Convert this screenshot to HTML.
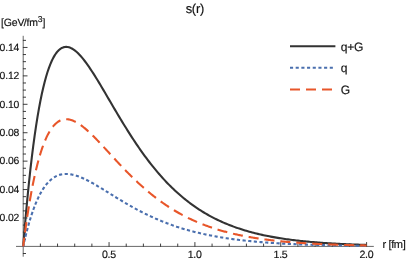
<!DOCTYPE html>
<html><head><meta charset="utf-8"><title>s(r)</title>
<style>html,body{margin:0;padding:0;background:#fff;}svg{display:block;will-change:transform;}text{font-family:"Liberation Sans",sans-serif;text-rendering:geometricPrecision;}</style>
</head><body>
<svg width="407" height="260" viewBox="0 0 407 260">
<rect width="407" height="260" fill="#ffffff"/>
<g stroke="#686868" stroke-width="1" fill="none">
<line x1="16.0" y1="246.4" x2="373.8" y2="246.4"/>
<line x1="23.2" y1="35.8" x2="23.2" y2="256.7"/>
</g>
<g stroke="#2a2a2a" stroke-width="0.9" fill="none">
<line x1="40.37" y1="246.70" x2="40.37" y2="243.60"/>
<line x1="57.54" y1="246.70" x2="57.54" y2="243.60"/>
<line x1="74.71" y1="246.70" x2="74.71" y2="243.60"/>
<line x1="91.88" y1="246.70" x2="91.88" y2="243.60"/>
<line x1="109.05" y1="246.70" x2="109.05" y2="242.10"/>
<line x1="126.22" y1="246.70" x2="126.22" y2="243.60"/>
<line x1="143.39" y1="246.70" x2="143.39" y2="243.60"/>
<line x1="160.56" y1="246.70" x2="160.56" y2="243.60"/>
<line x1="177.73" y1="246.70" x2="177.73" y2="243.60"/>
<line x1="194.90" y1="246.70" x2="194.90" y2="242.10"/>
<line x1="212.07" y1="246.70" x2="212.07" y2="243.60"/>
<line x1="229.24" y1="246.70" x2="229.24" y2="243.60"/>
<line x1="246.41" y1="246.70" x2="246.41" y2="243.60"/>
<line x1="263.58" y1="246.70" x2="263.58" y2="243.60"/>
<line x1="280.75" y1="246.70" x2="280.75" y2="242.10"/>
<line x1="297.92" y1="246.70" x2="297.92" y2="243.60"/>
<line x1="315.09" y1="246.70" x2="315.09" y2="243.60"/>
<line x1="332.26" y1="246.70" x2="332.26" y2="243.60"/>
<line x1="349.43" y1="246.70" x2="349.43" y2="243.60"/>
<line x1="366.60" y1="246.70" x2="366.60" y2="242.10"/>
<line x1="22.90" y1="253.50" x2="26.00" y2="253.50"/>
<line x1="22.90" y1="239.30" x2="26.00" y2="239.30"/>
<line x1="22.90" y1="232.19" x2="26.00" y2="232.19"/>
<line x1="22.90" y1="225.09" x2="26.00" y2="225.09"/>
<line x1="22.90" y1="217.98" x2="27.50" y2="217.98"/>
<line x1="22.90" y1="210.88" x2="26.00" y2="210.88"/>
<line x1="22.90" y1="203.77" x2="26.00" y2="203.77"/>
<line x1="22.90" y1="196.66" x2="26.00" y2="196.66"/>
<line x1="22.90" y1="189.56" x2="27.50" y2="189.56"/>
<line x1="22.90" y1="182.46" x2="26.00" y2="182.46"/>
<line x1="22.90" y1="175.35" x2="26.00" y2="175.35"/>
<line x1="22.90" y1="168.25" x2="26.00" y2="168.25"/>
<line x1="22.90" y1="161.14" x2="27.50" y2="161.14"/>
<line x1="22.90" y1="154.03" x2="26.00" y2="154.03"/>
<line x1="22.90" y1="146.93" x2="26.00" y2="146.93"/>
<line x1="22.90" y1="139.82" x2="26.00" y2="139.82"/>
<line x1="22.90" y1="132.72" x2="27.50" y2="132.72"/>
<line x1="22.90" y1="125.61" x2="26.00" y2="125.61"/>
<line x1="22.90" y1="118.51" x2="26.00" y2="118.51"/>
<line x1="22.90" y1="111.41" x2="26.00" y2="111.41"/>
<line x1="22.90" y1="104.30" x2="27.50" y2="104.30"/>
<line x1="22.90" y1="97.20" x2="26.00" y2="97.20"/>
<line x1="22.90" y1="90.09" x2="26.00" y2="90.09"/>
<line x1="22.90" y1="82.98" x2="26.00" y2="82.98"/>
<line x1="22.90" y1="75.88" x2="27.50" y2="75.88"/>
<line x1="22.90" y1="68.78" x2="26.00" y2="68.78"/>
<line x1="22.90" y1="61.67" x2="26.00" y2="61.67"/>
<line x1="22.90" y1="54.56" x2="26.00" y2="54.56"/>
<line x1="22.90" y1="47.46" x2="27.50" y2="47.46"/>
<line x1="22.90" y1="40.36" x2="26.00" y2="40.36"/>
</g>
<path d="M23.20,246.40 L24.63,228.92 L26.06,212.58 L27.49,197.33 L28.92,183.12 L30.35,169.89 L31.78,157.60 L33.22,146.19 L34.65,135.63 L36.08,125.87 L37.51,116.87 L38.94,108.59 L40.37,100.99 L41.80,94.04 L43.23,87.69 L44.66,81.93 L46.09,76.72 L47.52,72.03 L48.95,67.82 L50.39,64.08 L51.82,60.78 L53.25,57.88 L54.68,55.38 L56.11,53.25 L57.54,51.46 L58.97,49.99 L60.40,48.83 L61.83,47.96 L63.26,47.36 L64.69,47.00 L66.12,46.89 L67.56,47.00 L68.99,47.32 L70.42,47.83 L71.85,48.51 L73.28,49.37 L74.71,50.39 L76.14,51.55 L77.57,52.84 L79.00,54.26 L80.43,55.79 L81.86,57.43 L83.29,59.17 L84.73,61.00 L86.16,62.91 L87.59,64.89 L89.02,66.94 L90.45,69.05 L91.88,71.21 L93.31,73.43 L94.74,75.68 L96.17,77.98 L97.60,80.30 L99.03,82.66 L100.47,85.04 L101.90,87.44 L103.33,89.85 L104.76,92.28 L106.19,94.72 L107.62,97.16 L109.05,99.61 L110.48,102.06 L111.91,104.50 L113.34,106.94 L114.77,109.37 L116.20,111.79 L117.64,114.20 L119.07,116.60 L120.50,118.98 L121.93,121.34 L123.36,123.69 L124.79,126.02 L126.22,128.32 L127.65,130.61 L129.08,132.87 L130.51,135.11 L131.94,137.32 L133.37,139.51 L134.80,141.67 L136.24,143.81 L137.67,145.91 L139.10,147.99 L140.53,150.04 L141.96,152.07 L143.39,154.06 L144.82,156.02 L146.25,157.96 L147.68,159.86 L149.11,161.74 L150.54,163.58 L151.97,165.40 L153.41,167.18 L154.84,168.94 L156.27,170.66 L157.70,172.36 L159.13,174.02 L160.56,175.66 L161.99,177.27 L163.42,178.84 L164.85,180.39 L166.28,181.91 L167.71,183.40 L169.14,184.86 L170.58,186.30 L172.01,187.70 L173.44,189.08 L174.87,190.43 L176.30,191.76 L177.73,193.05 L179.16,194.33 L180.59,195.57 L182.02,196.79 L183.45,197.98 L184.88,199.15 L186.31,200.30 L187.75,201.42 L189.18,202.51 L190.61,203.59 L192.04,204.64 L193.47,205.66 L194.90,206.67 L196.33,207.65 L197.76,208.61 L199.19,209.55 L200.62,210.47 L202.05,211.37 L203.48,212.24 L204.92,213.10 L206.35,213.94 L207.78,214.76 L209.21,215.56 L210.64,216.34 L212.07,217.10 L213.50,217.85 L214.93,218.58 L216.36,219.29 L217.79,219.98 L219.22,220.66 L220.65,221.32 L222.09,221.97 L223.52,222.60 L224.95,223.22 L226.38,223.82 L227.81,224.40 L229.24,224.98 L230.67,225.54 L232.10,226.08 L233.53,226.61 L234.96,227.13 L236.39,227.64 L237.82,228.13 L239.26,228.61 L240.69,229.08 L242.12,229.54 L243.55,229.98 L244.98,230.42 L246.41,230.84 L247.84,231.26 L249.27,231.66 L250.70,232.05 L252.13,232.44 L253.56,232.81 L254.99,233.17 L256.43,233.53 L257.86,233.87 L259.29,234.21 L260.72,234.54 L262.15,234.86 L263.58,235.17 L265.01,235.47 L266.44,235.77 L267.87,236.06 L269.30,236.34 L270.73,236.61 L272.16,236.88 L273.60,237.14 L275.03,237.39 L276.46,237.63 L277.89,237.87 L279.32,238.11 L280.75,238.33 L282.18,238.56 L283.61,238.77 L285.04,238.98 L286.47,239.18 L287.90,239.38 L289.33,239.58 L290.77,239.76 L292.20,239.95 L293.63,240.13 L295.06,240.30 L296.49,240.47 L297.92,240.63 L299.35,240.79 L300.78,240.95 L302.21,241.10 L303.64,241.25 L305.07,241.39 L306.50,241.53 L307.94,241.67 L309.37,241.80 L310.80,241.93 L312.23,242.05 L313.66,242.17 L315.09,242.29 L316.52,242.41 L317.95,242.52 L319.38,242.63 L320.81,242.73 L322.24,242.84 L323.67,242.94 L325.11,243.04 L326.54,243.13 L327.97,243.22 L329.40,243.31 L330.83,243.40 L332.26,243.48 L333.69,243.57 L335.12,243.65 L336.55,243.73 L337.98,243.80 L339.41,243.88 L340.84,243.95 L342.28,244.02 L343.71,244.08 L345.14,244.15 L346.57,244.21 L348.00,244.28 L349.43,244.34 L350.86,244.40 L352.29,244.45 L353.72,244.51 L355.15,244.56 L356.58,244.62 L358.01,244.67 L359.45,244.72 L360.88,244.76 L362.31,244.81 L363.74,244.86 L365.17,244.90 L366.60,244.94" fill="none" stroke="#333333" stroke-width="2.1" stroke-linejoin="round"/>
<path d="M23.20,246.40 L23.72,244.06 M24.23,241.78 L24.75,239.56 L25.00,238.47 M25.43,236.68 L25.95,234.57 L26.29,233.20 M26.81,231.19 L27.32,229.22 L27.66,227.94 M28.27,225.74 L28.78,223.91 L29.21,222.42 M29.81,220.39 L30.33,218.70 L30.75,217.32 M31.44,215.18 L31.96,213.63 L32.56,211.87 M33.24,209.92 L33.76,208.51 L34.45,206.68 M35.22,204.71 L35.73,203.44 L36.51,201.61 M37.45,199.47 L37.97,198.36 L38.82,196.57 M39.85,194.55 L40.37,193.58 L41.40,191.74 M42.60,189.74 L43.12,188.93 L43.98,187.64 L44.40,187.02 M45.86,185.05 L46.38,184.41 L47.24,183.39 L47.92,182.61 M49.56,180.94 L50.07,180.46 L50.93,179.70 L51.96,178.86 M54.02,177.41 L54.54,177.10 L55.39,176.61 L56.25,176.17 L56.77,175.92 M59.09,175.02 L59.60,174.86 L60.46,174.62 L61.32,174.42 L62.18,174.26 M64.67,173.97 L65.18,173.95 L66.04,173.93 L66.90,173.94 L67.84,173.99 M70.33,174.26 L70.85,174.34 L71.71,174.49 L72.56,174.67 L73.42,174.86 M75.83,175.52 L76.34,175.68 L77.20,175.96 L78.06,176.26 L78.83,176.54 M81.15,177.46 L81.66,177.67 L82.52,178.04 L83.38,178.43 L84.07,178.74 M86.21,179.77 L86.73,180.03 L87.59,180.47 L88.45,180.91 L89.05,181.23 M91.28,182.43 L91.79,182.72 L92.65,183.20 L93.51,183.68 L94.03,183.98 M96.17,185.22 L96.69,185.52 L97.55,186.03 L98.40,186.54 L98.83,186.80 M100.98,188.10 L101.50,188.41 L102.35,188.94 L103.21,189.46 L103.73,189.78 M105.79,191.05 L106.30,191.37 L107.16,191.91 L108.02,192.44 L108.45,192.71 M110.60,194.04 L111.11,194.36 L111.97,194.89 L112.83,195.42 L113.26,195.69 M115.32,196.96 L115.83,197.27 L116.69,197.80 L117.55,198.33 L118.06,198.64 M120.12,199.89 L120.64,200.20 L121.50,200.72 L122.36,201.23 L122.87,201.54 M125.02,202.81 L125.53,203.11 L126.39,203.61 L127.25,204.11 L127.77,204.41 M129.91,205.63 L130.43,205.93 L131.29,206.41 L132.14,206.89 L132.66,207.18 M134.80,208.36 L135.32,208.64 L136.18,209.10 L137.04,209.56 L137.64,209.88 M139.78,211.01 L140.30,211.28 L141.16,211.72 L142.02,212.16 L142.62,212.47 M144.85,213.59 L145.36,213.84 L146.22,214.26 L147.08,214.68 L147.68,214.97 M149.91,216.02 L150.43,216.26 L151.29,216.66 L152.15,217.05 L152.83,217.37 M155.07,218.36 L155.58,218.59 L156.44,218.96 L157.30,219.33 L157.98,219.63 M160.22,220.56 L160.73,220.77 L161.59,221.13 L162.45,221.47 L163.22,221.78 M165.45,222.66 L165.97,222.85 L166.83,223.18 L167.69,223.51 L168.46,223.79 M170.78,224.64 L171.29,224.82 L172.15,225.13 L173.01,225.43 L173.78,225.70 M176.10,226.48 L176.61,226.66 L177.47,226.94 L178.33,227.22 L179.19,227.49 M181.51,228.22 L182.02,228.38 L182.88,228.64 L183.74,228.90 L184.60,229.15 M186.92,229.83 L187.43,229.97 L188.29,230.21 L189.15,230.45 L190.01,230.69 M192.41,231.33 L192.93,231.46 L193.78,231.68 L194.64,231.90 L195.50,232.12 M197.90,232.71 L198.42,232.83 L199.28,233.03 L200.14,233.24 L201.00,233.43 M203.40,233.97 L203.91,234.09 L204.77,234.27 L205.63,234.46 L206.49,234.64 M208.98,235.15 L209.49,235.25 L210.35,235.42 L211.21,235.59 L212.07,235.76 M214.56,236.23 L215.07,236.32 L215.93,236.48 L216.79,236.63 L217.65,236.78 M220.14,237.21 L220.65,237.29 L221.51,237.43 L222.37,237.57 L223.23,237.71 M225.72,238.10 L226.24,238.18 L227.09,238.30 L227.95,238.43 L228.81,238.56 M231.30,238.91 L231.82,238.98 L232.67,239.10 L233.53,239.21 L234.48,239.34 M236.88,239.65 L237.40,239.71 L238.25,239.82 L239.11,239.92 L240.06,240.03 M242.55,240.32 L243.06,240.38 L243.92,240.48 L244.78,240.57 L245.72,240.68 M248.21,240.94 L248.73,240.99 L249.59,241.08 L250.44,241.16 L251.39,241.26 M253.79,241.48 L254.31,241.53 L255.17,241.61 L256.03,241.69 L256.97,241.77 M259.46,241.99 L259.97,242.03 L260.83,242.10 L261.69,242.17 L262.64,242.25 M265.13,242.44 L265.64,242.48 L266.50,242.54 L267.36,242.61 L268.30,242.67 M270.79,242.85 L271.31,242.88 L272.16,242.94 L273.02,243.00 L273.97,243.06 M276.46,243.22 L276.97,243.25 L277.83,243.30 L278.69,243.35 L279.63,243.41 M282.12,243.55 L282.64,243.58 L283.50,243.62 L284.36,243.67 L285.30,243.72 M287.79,243.85 L288.30,243.87 L289.16,243.91 L290.02,243.95 L290.97,244.00 M293.46,244.11 L293.97,244.14 L294.83,244.17 L295.69,244.21 L296.63,244.25 M299.12,244.35 L299.64,244.37 L300.50,244.41 L301.35,244.44 L302.30,244.48 M304.79,244.57 L305.30,244.59 L306.16,244.62 L307.02,244.65 L307.96,244.68 M310.45,244.76 L310.97,244.78 L311.83,244.81 L312.69,244.84 L313.63,244.86 M316.12,244.94 L316.64,244.95 L317.49,244.98 L318.35,245.00 L319.30,245.03 M321.79,245.09 L322.30,245.11 L323.16,245.13 L324.02,245.15 L324.96,245.17 M327.45,245.23 L327.97,245.25 L328.83,245.27 L329.68,245.28 L330.63,245.31 M333.12,245.36 L333.63,245.37 L334.49,245.39 L335.35,245.40 L336.29,245.42 M338.78,245.47 L339.30,245.48 L340.16,245.50 L341.02,245.51 L341.96,245.53 M344.45,245.57 L344.97,245.58 L345.82,245.59 L346.68,245.61 L347.63,245.62 M350.12,245.66 L350.63,245.67 L351.49,245.68 L352.35,245.69 L353.29,245.71 M355.78,245.74 L356.30,245.75 L357.16,245.76 L358.01,245.77 L358.96,245.78 M361.45,245.81 L361.96,245.82 L362.82,245.83 L363.68,245.84 L364.63,245.85" fill="none" stroke="#4a6fae" stroke-width="2.1"/>
<path d="M23.20,246.40 L23.72,242.30 L24.32,237.64 M25.00,232.48 L25.52,228.71 L26.46,222.05 M27.23,216.82 L27.75,213.44 L28.61,208.00 L28.87,206.41 M29.72,201.26 L30.24,198.28 L31.10,193.48 L31.53,191.16 M32.56,185.80 L33.07,183.22 L33.93,179.09 L34.62,175.92 M35.91,170.29 L36.42,168.15 L37.28,164.72 L38.14,161.45 L38.40,160.50 M39.85,155.40 L40.37,153.71 L41.23,151.00 L42.09,148.43 L43.03,145.77 M45.09,140.53 L45.61,139.33 L46.47,137.43 L47.32,135.64 L48.18,133.97 L49.04,132.41 L49.56,131.53 M52.82,126.75 L53.33,126.13 L54.19,125.15 L55.05,124.26 L55.91,123.45 L56.77,122.72 L57.63,122.07 L58.48,121.49 L59.34,120.99 L60.20,120.55 L60.46,120.43 M66.21,119.22 L66.73,119.23 L67.58,119.29 L68.44,119.40 L69.30,119.55 L70.16,119.75 L71.02,119.99 L71.88,120.27 L72.74,120.58 L73.59,120.94 L74.45,121.33 L75.31,121.75 L75.74,121.97 M80.72,125.10 L81.23,125.47 L82.09,126.11 L82.95,126.78 L83.81,127.46 L84.67,128.17 L85.53,128.89 L86.39,129.63 L87.24,130.39 L88.10,131.16 L88.45,131.47 M92.65,135.48 L93.17,135.99 L94.03,136.85 L94.88,137.72 L95.74,138.59 L96.60,139.48 L97.46,140.37 L98.32,141.27 L99.18,142.17 L99.61,142.63 M103.56,146.86 L104.07,147.41 L104.93,148.34 L105.79,149.27 L106.65,150.21 L107.50,151.14 L108.36,152.08 L109.22,153.01 L110.08,153.95 L110.34,154.23 M114.29,158.52 L114.80,159.08 L115.66,160.01 L116.52,160.93 L117.38,161.85 L118.24,162.77 L119.09,163.69 L119.95,164.60 L120.81,165.51 L121.15,165.87 M125.10,169.99 L125.62,170.52 L126.48,171.39 L127.34,172.27 L128.19,173.14 L129.05,174.00 L129.91,174.86 L130.77,175.71 L131.63,176.56 L132.23,177.15 M136.35,181.11 L136.87,181.59 L137.72,182.40 L138.58,183.19 L139.44,183.98 L140.30,184.77 L141.16,185.55 L142.02,186.32 L142.87,187.08 L143.82,187.91 M148.20,191.67 L148.71,192.10 L149.57,192.81 L150.43,193.51 L151.29,194.21 L152.15,194.90 L153.01,195.59 L153.86,196.26 L154.72,196.93 L155.58,197.60 L156.01,197.92 M160.73,201.43 L161.25,201.80 L162.11,202.41 L162.96,203.02 L163.82,203.61 L164.68,204.20 L165.54,204.79 L166.40,205.37 L167.26,205.94 L168.11,206.50 L168.97,207.06 M173.95,210.17 L174.47,210.48 L175.33,210.99 L176.18,211.50 L177.04,212.00 L177.90,212.49 L178.76,212.98 L179.62,213.46 L180.48,213.94 L181.34,214.40 L182.19,214.87 L182.71,215.14 M187.95,217.82 L188.46,218.08 L189.32,218.49 L190.18,218.90 L191.04,219.31 L191.90,219.71 L192.75,220.11 L193.61,220.50 L194.47,220.88 L195.33,221.26 L196.19,221.64 L197.05,222.01 M202.54,224.26 L203.06,224.46 L203.91,224.79 L204.77,225.12 L205.63,225.44 L206.49,225.76 L207.35,226.07 L208.21,226.38 L209.07,226.69 L209.92,226.99 L210.78,227.29 L211.64,227.58 L211.98,227.70 M217.56,229.49 L218.08,229.65 L218.94,229.91 L219.80,230.16 L220.65,230.41 L221.51,230.66 L222.37,230.91 L223.23,231.15 L224.09,231.39 L224.95,231.62 L225.81,231.85 L226.66,232.08 L227.27,232.24 M233.02,233.66 L233.53,233.79 L234.39,233.98 L235.25,234.18 L236.11,234.37 L236.97,234.57 L237.82,234.75 L238.68,234.94 L239.54,235.12 L240.40,235.30 L241.26,235.48 L242.12,235.65 L242.80,235.79 M248.64,236.89 L249.16,236.98 L250.02,237.13 L250.87,237.28 L251.73,237.43 L252.59,237.58 L253.45,237.72 L254.31,237.86 L255.17,238.00 L256.03,238.13 L256.88,238.27 L257.74,238.40 L258.60,238.53 M264.44,239.36 L264.95,239.43 L265.81,239.54 L266.67,239.65 L267.53,239.76 L268.39,239.87 L269.25,239.98 L270.10,240.08 L270.96,240.19 L271.82,240.29 L272.68,240.39 L273.54,240.49 L274.48,240.59 M280.32,241.22 L280.84,241.27 L281.69,241.35 L282.55,241.44 L283.41,241.52 L284.27,241.60 L285.13,241.68 L285.99,241.76 L286.85,241.83 L287.70,241.91 L288.56,241.98 L289.42,242.06 L290.37,242.14 M296.29,242.60 L296.80,242.64 L297.66,242.71 L298.52,242.77 L299.38,242.83 L300.24,242.89 L301.10,242.95 L301.95,243.00 L302.81,243.06 L303.67,243.12 L304.53,243.17 L305.39,243.23 L306.33,243.29 M312.26,243.63 L312.77,243.66 L313.63,243.70 L314.49,243.75 L315.35,243.80 L316.21,243.84 L317.06,243.88 L317.92,243.93 L318.78,243.97 L319.64,244.01 L320.50,244.05 L321.36,244.09 L322.30,244.13 M328.23,244.39 L328.74,244.41 L329.60,244.44 L330.46,244.47 L331.32,244.51 L332.17,244.54 L333.03,244.57 L333.89,244.60 L334.75,244.63 L335.61,244.66 L336.47,244.69 L337.33,244.72 L338.27,244.75 M344.19,244.94 L344.71,244.95 L345.57,244.98 L346.43,245.00 L347.28,245.03 L348.14,245.05 L349.00,245.07 L349.86,245.10 L350.72,245.12 L351.58,245.14 L352.43,245.16 L353.29,245.18 L354.24,245.21 M360.16,245.34 L360.68,245.35 L361.53,245.37 L362.39,245.39 L363.25,245.41 L364.11,245.42 L364.97,245.44 L365.83,245.46 L366.60,245.47" fill="none" stroke="#e8562a" stroke-width="2.1"/>
<g font-family="Liberation Sans, sans-serif" fill="#111111" stroke="#111111" stroke-width="0.15">
<text x="19.2" y="221.33" font-size="10.4" letter-spacing="-0.15" text-anchor="end">0.02</text>
<text x="19.2" y="192.91" font-size="10.4" letter-spacing="-0.15" text-anchor="end">0.04</text>
<text x="19.2" y="164.49" font-size="10.4" letter-spacing="-0.15" text-anchor="end">0.06</text>
<text x="19.2" y="136.07" font-size="10.4" letter-spacing="-0.15" text-anchor="end">0.08</text>
<text x="19.2" y="107.65" font-size="10.4" letter-spacing="-0.15" text-anchor="end">0.10</text>
<text x="19.2" y="79.23" font-size="10.4" letter-spacing="-0.15" text-anchor="end">0.12</text>
<text x="19.2" y="50.81" font-size="10.4" letter-spacing="-0.15" text-anchor="end">0.14</text>
<text x="108.85" y="258.1" font-size="10.6" letter-spacing="-0.28" text-anchor="middle">0.5</text>
<text x="194.70" y="258.1" font-size="10.6" letter-spacing="-0.28" text-anchor="middle">1.0</text>
<text x="280.55" y="258.1" font-size="10.6" letter-spacing="-0.28" text-anchor="middle">1.5</text>
<text x="366.40" y="258.1" font-size="10.6" letter-spacing="-0.28" text-anchor="middle">2.0</text>
<text x="194.9" y="12.7" font-size="12.9" letter-spacing="-0.2" text-anchor="middle">s(r)</text>
<text x="0.9" y="26.4" font-size="10.5" letter-spacing="-0.1">[GeV<tspan dx="-0.7">/fm</tspan><tspan x="37.8" dy="-4.0" font-size="8.6">3</tspan><tspan x="42.5" dy="4.0">]</tspan></text>
<text x="382.4" y="248.1" font-size="11.1" letter-spacing="-0.37">r [fm]</text>
<text x="340.8" y="50.8" font-size="12.1" letter-spacing="-0.3">q+G</text>
<text x="340.8" y="72.3" font-size="12.1" letter-spacing="-0.3">q</text>
<text x="340.8" y="93.8" font-size="12.1" letter-spacing="-0.3">G</text>
</g>
<line x1="290" y1="46.3" x2="335.4" y2="46.3" stroke="#333333" stroke-width="2.1"/>
<line x1="290" y1="67.8" x2="335.4" y2="67.8" stroke="#4a6fae" stroke-width="2.1" stroke-dasharray="3.1 2.58"/>
<line x1="290" y1="89.5" x2="335.4" y2="89.5" stroke="#e8562a" stroke-width="2.1" stroke-dasharray="10 6"/>
</svg>
</body></html>
